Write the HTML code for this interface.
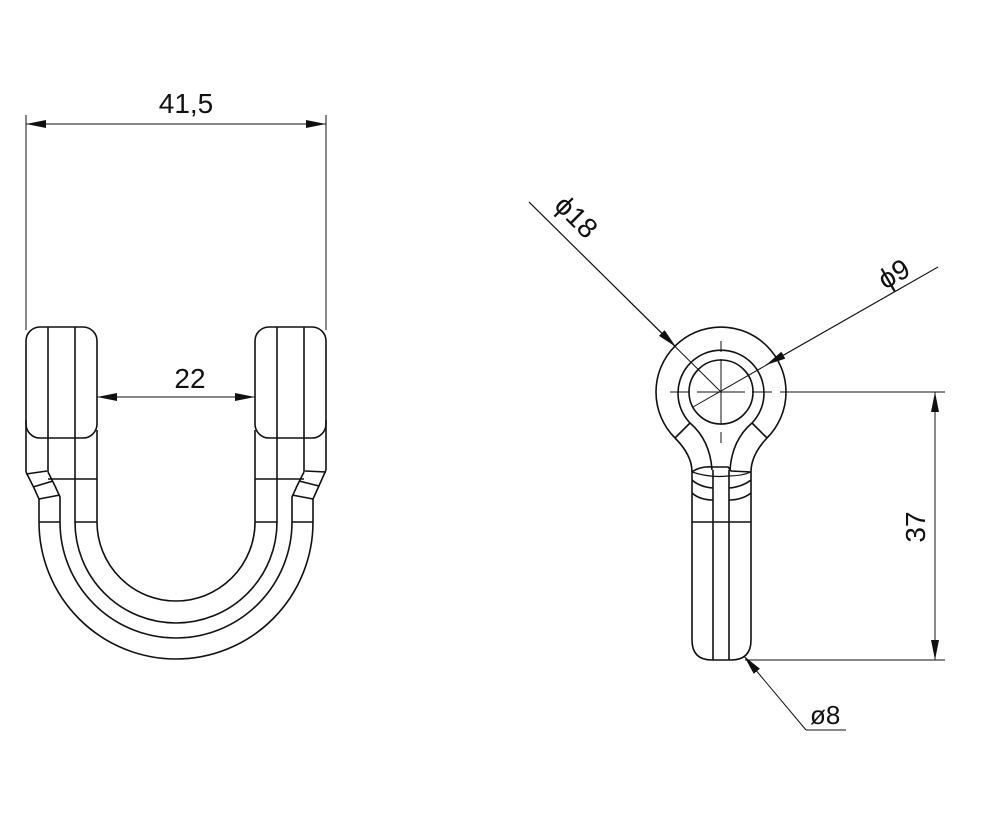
<!DOCTYPE html>
<html><head><meta charset="utf-8"><style>
html,body{margin:0;padding:0;background:#fff;}
svg{display:block;}
text{font-family:"Liberation Sans","DejaVu Sans",sans-serif;fill:#111;}
</style></head><body>
<svg width="988" height="825" viewBox="0 0 988 825" xmlns="http://www.w3.org/2000/svg">
<defs>
<marker id="a" viewBox="0 0 20 8" refX="20" refY="4" markerWidth="20" markerHeight="8" markerUnits="userSpaceOnUse" orient="auto-start-reverse"><path d="M0,0 L20,4 L0,8 z" fill="#111"/></marker>
</defs>
<g fill="none" stroke="#111" stroke-width="1.6">
<rect x="26" y="327" width="71" height="111" rx="14"/>
<rect x="255" y="327" width="71" height="111" rx="14"/>
<line x1="48" y1="327" x2="48" y2="472"/><line x1="75" y1="327" x2="75" y2="522"/>
<line x1="304" y1="327" x2="304" y2="472"/><line x1="277" y1="327" x2="277" y2="522"/>
<line x1="26" y1="420" x2="26" y2="472"/><line x1="326" y1="420" x2="326" y2="470"/>
<line x1="97" y1="430" x2="97" y2="522"/><line x1="255" y1="430" x2="255" y2="522"/>
<path d="M26,472 L34,488 L39,499 L39,522"/>
<path d="M48,472 L55,486 L60,497 L60,522"/>
<line x1="26" y1="474" x2="47" y2="471"/><line x1="33" y1="487" x2="53" y2="481"/><line x1="39" y1="499" x2="60" y2="495"/>
<path d="M326,470 L318,488 L313,499 L313,522"/>
<path d="M304,472 L297,486 L292,497 L292,522"/>
<line x1="326" y1="472" x2="305" y2="471"/><line x1="319" y1="486" x2="299" y2="481"/><line x1="313" y1="499" x2="292" y2="495"/>
<line x1="48" y1="479" x2="97" y2="479"/><line x1="255" y1="479" x2="304" y2="479"/>
<line x1="39" y1="522" x2="60" y2="522"/><line x1="75" y1="522" x2="97" y2="522"/>
<line x1="255" y1="522" x2="277" y2="522"/><line x1="292" y1="522" x2="313" y2="522"/>
<path d="M97,522 A79,79 0 0 0 255,522"/>
<path d="M75,522 A101,101 0 0 0 277,522"/>
<path d="M60,522 A116,116 0 0 0 292,522"/>
<path d="M39,522 A137,137 0 0 0 313,522"/>
</g>
<g fill="none" stroke="#111" stroke-width="1">
<line x1="26" y1="115" x2="26" y2="330"/><line x1="326" y1="115" x2="326" y2="330"/>
<line x1="26" y1="124" x2="326" y2="124" marker-start="url(#a)" marker-end="url(#a)"/>
<line x1="97" y1="397" x2="255" y2="397" marker-start="url(#a)" marker-end="url(#a)"/>
</g>
<text x="186" y="113" font-size="28" text-anchor="middle">41,5</text>
<text x="190" y="388" font-size="28" text-anchor="middle">22</text>

<g fill="none" stroke="#111" stroke-width="1.6">
<path d="M675,438 A65,65 0 1 1 767,438"/>
<path d="M675,438 Q692,455 692,472 L692,640 Q692,660 712,660 L731,660 Q751,660 751,640 L751,472 Q751,455 767,438"/>
<path d="M690,423 A43,43 0 1 1 752,423"/>
<path d="M690,423 Q710,440 712,470"/><path d="M752,423 Q732,440 730,470"/>
<line x1="675" y1="438" x2="690" y2="423"/><line x1="767" y1="438" x2="752" y2="423"/>
<circle cx="721" cy="392" r="32"/>
<line x1="713" y1="470" x2="713" y2="660"/><line x1="729" y1="470" x2="729" y2="660"/>
<path d="M692,472 Q700,466 713,467 L728,467 L731,471 L751,472"/>
<path d="M692,472 Q710,478 728,476 Q742,476 751,472" stroke-width="1.2"/>
<path d="M692,480 Q700,487 713,488"/><path d="M729,488 Q742,487 751,480"/>
<path d="M692,493 Q700,500 713,500"/><path d="M729,500 Q742,500 751,493"/>
<line x1="692" y1="522" x2="751" y2="522"/>
</g>
<g fill="none" stroke="#111" stroke-width="1">
<path d="M670,392 H690 M697,392 H745 M752,392 H772 M780,392 H945" />
<path d="M721,341 V352 M721,359 V425 M721,432 V443"/>
<line x1="745" y1="660" x2="945" y2="660"/>
<line x1="935" y1="392" x2="935" y2="660" marker-start="url(#a)" marker-end="url(#a)"/>
<line x1="529" y1="202" x2="721" y2="392"/>
<line x1="529" y1="202" x2="676" y2="347" marker-end="url(#a)"/>
<line x1="938" y1="267" x2="693" y2="407"/>
<line x1="938" y1="267" x2="766" y2="365" marker-end="url(#a)"/>
<line x1="846" y1="730" x2="806" y2="730"/>
<line x1="806" y1="730" x2="744" y2="656" marker-end="url(#a)"/>
</g>
<text font-size="28" transform="translate(553,207) rotate(45)">ϕ18</text>
<text font-size="28" transform="translate(885,290) rotate(-30)">ϕ9</text>
<text font-size="28" transform="translate(925,527) rotate(-90)" text-anchor="middle">37</text>
<text x="810" y="724" font-size="26">ø8</text>
</svg>
</body></html>
